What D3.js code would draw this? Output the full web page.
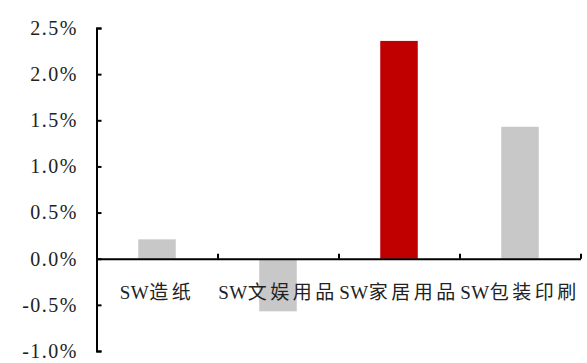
<!DOCTYPE html>
<html>
<head>
<meta charset="utf-8">
<script src="https://cdn.jsdelivr.net/npm/d3@7/dist/d3.min.js"></script>
<style>
  html, body { margin: 0; padding: 0; background: #fff; }
  svg { display: block; }
  .tick-label { font-family: "Liberation Serif", "Noto Sans CJK SC", serif; font-size: 20px; fill: #222; }
  .cat-label { font-family: "Liberation Serif", "Noto Sans CJK SC", serif; font-size: 19px; fill: #222; }
</style>
</head>
<body>
<svg id="chart" width="587" height="363"></svg>
<script>
// Industry index change, percent
const categories = ["SW造纸", "SW文娱用品", "SW家居用品", "SW包装印刷"];
const values = [0.21, -0.57, 2.36, 1.43];
const barColors = ["#c8c8c8", "#c8c8c8", "#c00000", "#c8c8c8"];
const yTicks = [-1.0, -0.5, 0.0, 0.5, 1.0, 1.5, 2.0, 2.5];

const svg = d3.select("#chart");
const plotLeft = 96.5, plotRight = 580.5, plotTop = 28, plotBottom = 351;

const y = d3.scaleLinear().domain([-1.0, 2.5]).range([plotBottom, plotTop]);
const x = d3.scaleBand().domain(categories).range([plotLeft, plotRight])
  .paddingInner(0.69).paddingOuter(0.345);
const slot = d3.scaleLinear().domain([0, categories.length]).range([plotLeft, plotRight]);

// bars
svg.append("g").selectAll("rect").data(categories).join("rect")
  .attr("x", d => x(d))
  .attr("width", x.bandwidth())
  .attr("y", (d, i) => y(Math.max(0, values[i])))
  .attr("height", (d, i) => Math.abs(y(values[i]) - y(0)))
  .attr("fill", (d, i) => barColors[i]);

// y axis, ticks pointing inward
const yAxis = svg.append("g").attr("transform", `translate(${plotLeft},0)`)
  .call(d3.axisLeft(y).tickValues(yTicks)
    .tickFormat(d => d.toFixed(1) + "%")
    .tickSizeInner(-5).tickSizeOuter(-5).tickPadding(18.5));
yAxis.selectAll("path, line").attr("stroke", "#000").attr("stroke-width", 2);
yAxis.selectAll("text").attr("class", "tick-label").attr("fill", null)
  .style("letter-spacing", "1.5px");
yAxis.attr("font-family", null).attr("font-size", null);

// x axis along zero, ticks at category boundaries
const xAxis = svg.append("g").attr("transform", `translate(0,${y(0)})`)
  .call(d3.axisBottom(slot).tickValues(d3.range(1, categories.length + 1))
    .tickFormat("").tickSizeInner(-5).tickSizeOuter(0));
xAxis.selectAll("path, line").attr("stroke", "#000").attr("stroke-width", 2);

// category labels below the zero line: Latin prefix tight, CJK part spaced
const labels = svg.append("g").selectAll("text").data(categories).join("text")
  .attr("class", "cat-label")
  .attr("x", d => x(d) + x.bandwidth() / 2)
  .attr("y", y(0) + 40)
  .attr("text-anchor", "middle");
labels.append("tspan").style("letter-spacing", "0.5px").text(d => d.slice(0, 2));
labels.append("tspan").style("letter-spacing", "3.5px").text(d => d.slice(2));
</script>
</body>
</html>
